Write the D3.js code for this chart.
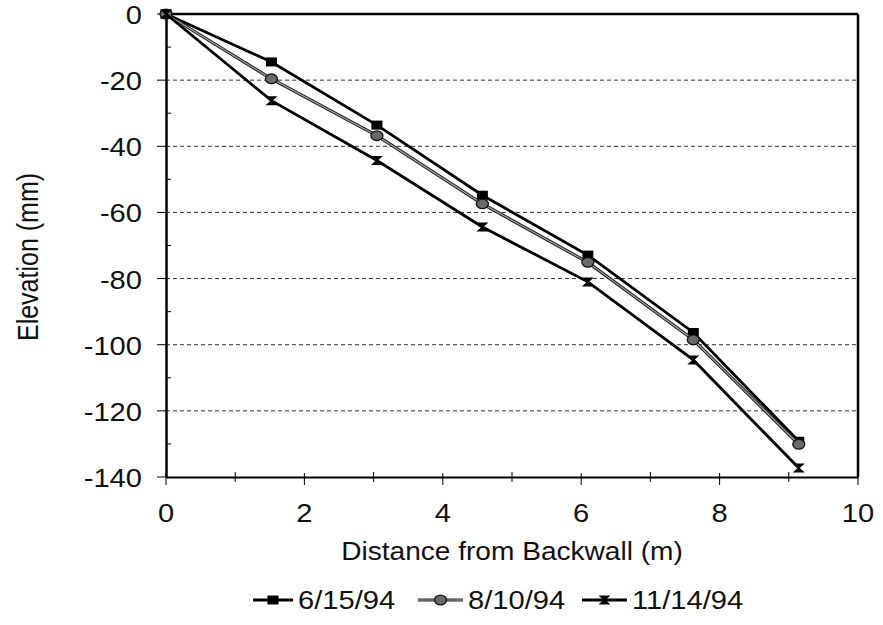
<!DOCTYPE html>
<html><head><meta charset="utf-8">
<script src="https://cdn.jsdelivr.net/npm/d3@7"></script>
<style>body{margin:0;background:#fff}svg{display:block}text{font-family:"Liberation Sans",Arial,sans-serif;fill:#111}</style>
</head><body>
<svg id="c" width="883" height="625"></svg>
<script>
const distances = [0, 1.524, 3.048, 4.572, 6.096, 7.62, 9.144];
const s0615 = [0, -14.5, -33.6, -54.8, -72.9, -96.3, -129.2];
const s0810 = [0, -19.6, -36.8, -57.4, -75.1, -98.5, -130.1];
const s1114 = [0, -26.2, -44.3, -64.4, -81.0, -104.6, -137.3];
const seriesNames = ["6/15/94", "8/10/94", "11/14/94"];
const xTicks = [0, 2, 4, 6, 8, 10];
const yTicks = [0, -20, -40, -60, -80, -100, -120, -140];

const svg = d3.select("#c");
const L = 166, R = 858, T = 14, B = 477;
const x = d3.scaleLinear().domain([0, 10]).range([L, R]);
const y = d3.scaleLinear().domain([0, -140]).range([T, B]);
const SX = 1.12;
const FS = 26;

// gridlines
svg.append("g").selectAll("line").data(yTicks.filter(v => v < 0 && v > -140)).join("line")
  .attr("x1", L).attr("x2", R).attr("y1", d => y(d)).attr("y2", d => y(d))
  .attr("stroke", "#333").attr("stroke-width", 1).attr("stroke-dasharray", "4,3");

// frame
svg.append("line").attr("x1", L).attr("x2", R).attr("y1", T).attr("y2", T).attr("stroke", "#000").attr("stroke-width", 2.5);
svg.append("line").attr("x1", R).attr("x2", R).attr("y1", T).attr("y2", B).attr("stroke", "#000").attr("stroke-width", 2.5);

// axes via d3
const xAxis = d3.axisBottom(x).tickValues(xTicks).tickSize(0).tickFormat("");
const gx = svg.append("g").attr("transform", `translate(0,${B})`).call(xAxis);
gx.select(".domain").attr("stroke", "#000").attr("stroke-width", 2);
const yAxis = d3.axisLeft(y).tickValues(yTicks).tickSize(0).tickFormat("");
const gy = svg.append("g").attr("transform", `translate(${L},0)`).call(yAxis);
gy.select(".domain").attr("stroke", "#000").attr("stroke-width", 2.5);

// ticks
const xMinor = d3.range(1, 10, 2);
svg.append("g").selectAll("line").data(xTicks).join("line")
  .attr("x1", d => x(d)).attr("x2", d => x(d)).attr("y1", B - 4).attr("y2", B + 8).attr("stroke", "#000");
svg.append("g").selectAll("line").data(xMinor).join("line")
  .attr("x1", d => x(d)).attr("x2", d => x(d)).attr("y1", B - 5).attr("y2", B + 5).attr("stroke", "#000");
const yMinor = d3.range(-10, -140, -20);
svg.append("g").selectAll("line").data(yTicks).join("line")
  .attr("x1", L - 9).attr("x2", L).attr("y1", d => y(d)).attr("y2", d => y(d)).attr("stroke", "#000");
svg.append("g").selectAll("line").data(yMinor).join("line")
  .attr("x1", L).attr("x2", L + 5).attr("y1", d => y(d)).attr("y2", d => y(d)).attr("stroke", "#000");

// tick labels
svg.append("g").selectAll("text").data(xTicks).join("text")
  .attr("transform", d => `translate(${x(d)},${B + 45}) scale(${SX},1)`)
  .attr("text-anchor", "middle").attr("font-size", FS).text(d => d);
svg.append("g").selectAll("text").data(yTicks).join("text")
  .attr("transform", d => `translate(${L - 24},${y(d) + 10}) scale(${SX},1)`)
  .attr("text-anchor", "end").attr("font-size", FS).text(d => d);

// axis titles
svg.append("text").attr("transform", `translate(${(L + R) / 2},${560}) scale(1.08,1)`)
  .attr("text-anchor", "middle").attr("font-size", FS).text("Distance from Backwall (m)");
svg.append("text").attr("transform", `translate(38,257) scale(1.15,1) rotate(-90)`)
  .attr("text-anchor", "middle").attr("font-size", 25).text("Elevation (mm)");

// markers
const bowtie = "M-6,-4.5L6,-4.5L1,0L6,4.5L-6,4.5L-1,0Z";
function marker(g, k, cx, cy) {
  if (k === 0) g.append("rect").attr("x", cx - 5.5).attr("y", cy - 4.5).attr("width", 11).attr("height", 9).attr("fill", "#000");
  else if (k === 1) g.append("ellipse").attr("cx", cx).attr("cy", cy).attr("rx", 6).attr("ry", 4.8).attr("fill", "#6a6a6a").attr("stroke", "#111").attr("stroke-width", 1.3);
  else g.append("path").attr("d", bowtie).attr("transform", `translate(${cx},${cy})`).attr("fill", "#000");
}

const series = [s0615, s0810, s1114];
const line = d3.line().x((d, i) => x(distances[i])).y(d => y(d));
series.forEach((s, k) => {
  const g = svg.append("g");
  if (k === 1) {
    g.append("path").attr("d", line(s)).attr("fill", "none").attr("stroke", "#222").attr("stroke-width", 3.2);
    g.append("path").attr("d", line(s)).attr("fill", "none").attr("stroke", "#aaa").attr("stroke-width", 1.1);
  } else {
    g.append("path").attr("d", line(s)).attr("fill", "none").attr("stroke", "#000").attr("stroke-width", 2.8);
  }
  s.forEach((v, i) => marker(g, k, x(distances[i]), y(v)));
});

// legend
const legX = [253, 418, 582];
const legW = [40, 45, 45];
const legY = 600;
seriesNames.forEach((n, k) => {
  const g = svg.append("g");
  const x0 = legX[k], x1 = legX[k] + legW[k];
  if (k === 1) {
    g.append("line").attr("x1", x0).attr("x2", x1).attr("y1", legY).attr("y2", legY).attr("stroke", "#222").attr("stroke-width", 3);
    g.append("line").attr("x1", x0).attr("x2", x1).attr("y1", legY).attr("y2", legY).attr("stroke", "#aaa").attr("stroke-width", 1);
  } else {
    g.append("line").attr("x1", x0).attr("x2", x1).attr("y1", legY).attr("y2", legY).attr("stroke", "#000").attr("stroke-width", 2.8);
  }
  marker(g, k, (x0 + x1) / 2, legY);
  g.append("text").attr("transform", `translate(${x1 + 5},${legY + 9}) scale(${SX},1)`)
    .attr("font-size", FS).text(n);
});
</script>
</body></html>
